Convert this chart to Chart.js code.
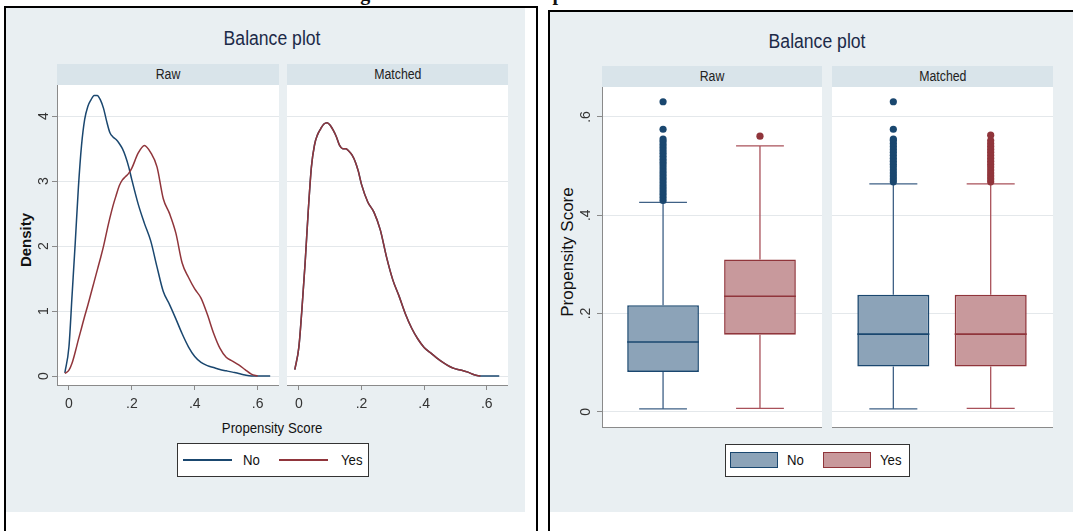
<!DOCTYPE html>
<html>
<head>
<meta charset="utf-8">
<title>Balance plots</title>
<script src="https://cdn.jsdelivr.net/npm/chart.js@4.4.1/dist/chart.umd.min.js"></script>
<style>
  html, body { margin: 0; padding: 0; background: #fff; }
  #page { position: relative; width: 1073px; height: 531px; overflow: hidden;
          font-family: 'Liberation Sans', Arial, sans-serif; color: #111; }
  .abs { position: absolute; }
  .frame { position: absolute; border: 2px solid #000; box-sizing: border-box; }
  .panel { position: absolute; background: #e9eff2; }
  .strip { position: absolute; background: #d9e4ea; font-size: 14px; line-height: 21px;
           text-align: center; color: #222; }
  .sq { display: inline-block; transform: scaleX(0.88); white-space: nowrap; }
  .title { position: absolute; width: 200px; font-size: 20px; line-height: 20px;
           text-align: center; color: #1c2a48; }
  .legend { position: absolute; background: #fff; border: 1px solid #333; }
  .legend .txt { position: absolute; font-size: 15px; line-height: 16px; transform-origin: left center; }
  canvas { position: absolute; }
</style>
</head>
<body>
<div id="page">
  <div class="abs" style="left:288px; top:-17px; font: bold 20px 'Liberation Serif', 'Times New Roman', serif; line-height:20px; white-space:nowrap;">Matching Results and Balance plots</div>

  <!-- left panel: kernel densities -->
  <div class="frame" style="left:4px; top:6px; width:534px; height:560px;"></div>
  <div class="panel" style="left:6px; top:8px; width:519px; height:504px;"></div>
  <div class="title" style="left:172px; top:28px;"><span class="sq">Balance plot</span></div>
  <div class="strip" style="left:57px; top:64px; width:222px; height:21px;"><span class="sq">Raw</span></div>
  <div class="strip" style="left:287px; top:64px; width:221px; height:21px;"><span class="sq">Matched</span></div>
  <div class="abs" style="left:-14px; top:230px; width:80px; height:20px; line-height:20px; text-align:center; font-weight:bold; font-size:15px; transform:rotate(-90deg);">Density</div>
  <div class="abs" style="left:172px; top:419px; width:200px; text-align:center; font-size:15px; line-height:18px;"><span class="sq">Propensity Score</span></div>
  <div class="legend" style="left:177px; top:443px; width:190px; height:32px;">
    <div class="abs" style="left:5px; top:15px; width:49px; height:2px; background:#1a476f;"></div>
    <div class="txt sq" style="left:65px; top:8px;">No</div>
    <div class="abs" style="left:101px; top:15px; width:49px; height:2px; background:#90353b;"></div>
    <div class="txt sq" style="left:163px; top:8px;">Yes</div>
  </div>
  <canvas id="densRaw" width="249" height="330" style="left:30px; top:85px;"></canvas>
  <canvas id="densMatched" width="221" height="330" style="left:287px; top:85px;"></canvas>

  <!-- right panel: box plots -->
  <div class="frame" style="left:548px; top:10px; width:540px; height:560px;"></div>
  <div class="panel" style="left:550px; top:12px; width:523px; height:500px;"></div>
  <div class="title" style="left:717px; top:31px;"><span class="sq">Balance plot</span></div>
  <div class="strip" style="left:602px; top:66px; width:220px; height:21px;"><span class="sq">Raw</span></div>
  <div class="strip" style="left:832px; top:66px; width:221px; height:21px;"><span class="sq">Matched</span></div>
  <div class="abs" style="left:488px; top:242px; width:160px; height:20px; line-height:20px; text-align:center; font-size:17px; transform:rotate(-90deg);">Propensity Score</div>
  <div class="legend" style="left:725px; top:444px; width:183px; height:31px;">
    <div class="abs" style="left:4px; top:7px; width:46px; height:14px; background:#8ca3b8; border:1.5px solid #1a476f;"></div>
    <div class="txt sq" style="left:61px; top:7px;">No</div>
    <div class="abs" style="left:97px; top:7px; width:46px; height:14px; background:#c8999c; border:1.5px solid #90353b;"></div>
    <div class="txt sq" style="left:154px; top:7px;">Yes</div>
  </div>
  <canvas id="boxRaw" width="252" height="345" style="left:570px; top:87px;"></canvas>
  <canvas id="boxMatched" width="221" height="345" style="left:832px; top:87px;"></canvas>
</div>

<script>
// ---- data ----

// propensity score values where the densities were read
const scoreGrid = [-0.013, 0, 0.01, 0.02, 0.03, 0.04, 0.05, 0.06, 0.07, 0.08, 0.09, 0.10,
  0.11, 0.12, 0.13, 0.14, 0.15, 0.16, 0.17, 0.18, 0.19, 0.20, 0.22, 0.24, 0.26, 0.28,
  0.30, 0.32, 0.34, 0.36, 0.38, 0.40, 0.42, 0.44, 0.46, 0.48, 0.50, 0.52, 0.54, 0.56,
  0.58, 0.60, 0.62, 0.64];

const rawNoDensity = [0.05, 0.45, 1.25, 2.05, 2.90, 3.55, 3.95, 4.15, 4.25, 4.32, 4.32, 4.25,
  4.12, 3.92, 3.75, 3.68, 3.64, 3.58, 3.50, 3.38, 3.22, 3.02, 2.65, 2.35, 2.08, 1.68,
  1.30, 1.10, 0.88, 0.65, 0.45, 0.30, 0.21, 0.16, 0.13, 0.10, 0.08, 0.06, 0.04, 0.015,
  0, 0, 0, 0];

const rawYesDensity = [0.04, 0.09, 0.20, 0.37, 0.56, 0.74, 0.92, 1.09, 1.27, 1.45, 1.63, 1.81,
  2.00, 2.22, 2.43, 2.62, 2.78, 2.93, 3.02, 3.07, 3.12, 3.20, 3.43, 3.55, 3.44, 3.22,
  2.73, 2.50, 2.20, 1.74, 1.52, 1.34, 1.20, 0.95, 0.66, 0.43, 0.29, 0.23, 0.17, 0.10,
  0.03, 0, null, null];

const matchedNoDensity = [0.10, 0.45, 1.05, 1.75, 2.55, 3.22, 3.56, 3.72, 3.81, 3.88, 3.90, 3.86,
  3.78, 3.68, 3.55, 3.50, 3.50, 3.46, 3.40, 3.30, 3.15, 2.95, 2.68, 2.52, 2.25, 1.83,
  1.48, 1.23, 0.96, 0.74, 0.57, 0.44, 0.36, 0.28, 0.21, 0.15, 0.11, 0.09, 0.06, 0.02,
  0, 0, 0, 0];

const matchedYesDensity = [0.10, 0.45, 1.05, 1.75, 2.55, 3.22, 3.56, 3.72, 3.81, 3.88, 3.90, 3.86,
  3.78, 3.68, 3.55, 3.50, 3.50, 3.46, 3.40, 3.30, 3.15, 2.95, 2.68, 2.52, 2.25, 1.83,
  1.48, 1.23, 0.96, 0.74, 0.57, 0.44, 0.36, 0.28, 0.21, 0.15, 0.11, 0.09, 0.06, 0.02,
  0, null, null, null];

const scoreTicks = [0, 0.2, 0.4, 0.6];
const scoreTickLabels = ['0', '.2', '.4', '.6'];
const densityTicks = [0, 1, 2, 3, 4];
const densityTickLabels = ['0', '1', '2', '3', '4'];

// box plots: one value per group (No, Yes)
const boxGroups = ['No', 'Yes'];
const rawLowWhisker = [0.006, 0.007];
const rawQ1 = [0.081, 0.157];
const rawMedian = [0.142, 0.235];
const rawQ3 = [0.217, 0.310];
const rawHighWhisker = [0.426, 0.541];
const matchedLowWhisker = [0.006, 0.007];
const matchedQ1 = [0.092, 0.092];
const matchedMedian = [0.158, 0.158];
const matchedQ3 = [0.238, 0.238];
const matchedHighWhisker = [0.464, 0.464];

const rawNoOutliers = [0.430, 0.436, 0.442, 0.448, 0.454, 0.460, 0.466, 0.472, 0.478, 0.484,
  0.490, 0.496, 0.502, 0.508, 0.514, 0.520, 0.526, 0.532, 0.538, 0.544, 0.550, 0.555,
  0.575, 0.631];
const rawYesOutliers = [0.561];
const matchedNoOutliers = [0.468, 0.474, 0.480, 0.486, 0.492, 0.498, 0.504, 0.510, 0.516,
  0.522, 0.528, 0.534, 0.540, 0.546, 0.552, 0.555, 0.575, 0.631];
const matchedYesOutliers = [0.468, 0.474, 0.480, 0.486, 0.492, 0.498, 0.504, 0.510, 0.516,
  0.522, 0.528, 0.534, 0.540, 0.546, 0.552, 0.563];

const boxTicks = [0, 0.2, 0.4, 0.6];
const boxTickLabels = ['0', '.2', '.4', '.6'];

// ---- styling ----
const navy = '#1a476f';
const maroon = '#90353b';
const navyFill = '#8ca3b8';
const maroonFill = '#c8999c';
const axisGrey = '#8a8a8a';
const gridGrey = '#e4e8eb';

Chart.defaults.font.family = "'Liberation Sans', Arial, sans-serif";
Chart.defaults.color = '#333';

// white plot region behind the data
const plotBackground = {
  id: 'plotBackground',
  beforeDraw(chart) {
    const { ctx, chartArea: a } = chart;
    ctx.save();
    ctx.fillStyle = '#fff';
    ctx.fillRect(a.left, a.top, a.right - a.left, a.bottom - a.top);
    ctx.restore();
  }
};

// fixed axis sizes so the facets line up; no extra padding for end labels
function fixWidth(w) {
  return s => { s.width = w; s.paddingTop = 0; s.paddingBottom = 0; };
}
function fixHeight(h) {
  return s => { s.height = h; s.paddingLeft = 0; s.paddingRight = 0; };
}

function densityChart(id, noDensity, yesDensity, withYAxis) {
  const toPoints = d => scoreGrid.map((x, i) => ({ x: x, y: d[i] }));
  return new Chart(document.getElementById(id), {
    type: 'line',
    data: {
      datasets: [
        { label: 'Yes', data: toPoints(yesDensity), borderColor: maroon },
        { label: 'No', data: toPoints(noDensity), borderColor: navy }
      ]
    },
    options: {
      responsive: false,
      animation: false,
      events: [],
      layout: { padding: 0, autoPadding: false },
      plugins: { legend: { display: false }, tooltip: { enabled: false } },
      elements: {
        point: { radius: 0 },
        line: { borderWidth: 1.5, cubicInterpolationMode: 'monotone', fill: false }
      },
      scales: {
        x: {
          type: 'linear', min: -0.038, max: 0.668, offset: false,
          afterBuildTicks: s => { s.ticks = scoreTicks.map(v => ({ value: v })); },
          afterFit: fixHeight(30),
          grid: { drawOnChartArea: false, tickColor: axisGrey, tickLength: 5 },
          border: { color: axisGrey, width: 1 },
          ticks: {
            autoSkip: false, minRotation: 0, maxRotation: 0, padding: 6,
            font: { size: 14 },
            callback: (v, i) => scoreTickLabels[i]
          }
        },
        y: {
          type: 'linear', min: -0.138, max: 4.48,
          afterBuildTicks: s => { s.ticks = densityTicks.map(v => ({ value: v })); },
          afterFit: fixWidth(withYAxis ? 27 : 0),
          grid: { color: gridGrey, tickColor: axisGrey, tickLength: 5, drawTicks: withYAxis },
          border: { display: withYAxis, color: axisGrey, width: 1 },
          ticks: {
            display: withYAxis, autoSkip: false, minRotation: 90, maxRotation: 90,
            crossAlign: 'center', padding: 4, font: { size: 14 },
            callback: (v, i) => densityTickLabels[i]
          }
        }
      }
    },
    plugins: [plotBackground]
  });
}

// whiskers, caps and median lines drawn on the library's scales
function boxParts(stats) {
  const lineColors = ['#3f6186', '#a9515a'];
  const edgeColors = [navy, maroon];
  return {
    id: 'boxParts',
    beforeDatasetsDraw(chart) {
      const y = chart.scales.y;
      const ctx = chart.ctx;
      ctx.save();
      ctx.lineWidth = 1.3;
      chart.getDatasetMeta(0).data.forEach((bar, i) => {
        const half = bar.width / 3;
        const lo = y.getPixelForValue(stats.low[i]);
        const q1 = y.getPixelForValue(stats.q1[i]);
        const q3 = y.getPixelForValue(stats.q3[i]);
        const hi = y.getPixelForValue(stats.high[i]);
        ctx.strokeStyle = lineColors[i];
        ctx.beginPath();
        ctx.moveTo(bar.x, q1); ctx.lineTo(bar.x, lo);
        ctx.moveTo(bar.x - half, lo); ctx.lineTo(bar.x + half, lo);
        ctx.moveTo(bar.x, q3); ctx.lineTo(bar.x, hi);
        ctx.moveTo(bar.x - half, hi); ctx.lineTo(bar.x + half, hi);
        ctx.stroke();
      });
      ctx.restore();
    },
    afterDatasetsDraw(chart) {
      const y = chart.scales.y;
      const ctx = chart.ctx;
      ctx.save();
      ctx.lineWidth = 1.6;
      chart.getDatasetMeta(0).data.forEach((bar, i) => {
        const m = y.getPixelForValue(stats.median[i]);
        ctx.strokeStyle = edgeColors[i];
        ctx.beginPath();
        ctx.moveTo(bar.x - bar.width / 2, m);
        ctx.lineTo(bar.x + bar.width / 2, m);
        ctx.stroke();
      });
      ctx.restore();
    }
  };
}

function boxChart(id, stats, noOutliers, yesOutliers, withYAxis) {
  const boxes = boxGroups.map((g, i) => ({ x: i, y: [stats.q1[i], stats.q3[i]] }));
  return new Chart(document.getElementById(id), {
    type: 'bar',
    data: {
      datasets: [
        {
          type: 'bar', label: 'box', data: boxes,
          backgroundColor: [navyFill, maroonFill], borderColor: [navy, maroon],
          borderWidth: 1.6, borderSkipped: false,
          categoryPercentage: 1, barPercentage: 0.74
        },
        {
          type: 'scatter', label: 'No outside values',
          data: noOutliers.map(v => ({ x: 0, y: v })),
          backgroundColor: navy, borderWidth: 0, pointRadius: 3.6
        },
        {
          type: 'scatter', label: 'Yes outside values',
          data: yesOutliers.map(v => ({ x: 1, y: v })),
          backgroundColor: maroon, borderWidth: 0, pointRadius: 3.6
        }
      ]
    },
    options: {
      responsive: false,
      animation: false,
      events: [],
      layout: { padding: 0, autoPadding: false },
      plugins: { legend: { display: false }, tooltip: { enabled: false } },
      scales: {
        x: {
          type: 'linear', min: -0.63, max: 1.64, offset: false,
          afterBuildTicks: s => { s.ticks = boxGroups.map((g, i) => ({ value: i })); },
          afterFit: fixHeight(5),
          grid: { display: false, offset: false },
          border: { color: axisGrey, width: 1 },
          ticks: { display: false }
        },
        y: {
          type: 'linear', min: -0.031, max: 0.661,
          afterBuildTicks: s => { s.ticks = boxTicks.map(v => ({ value: v })); },
          afterFit: fixWidth(withYAxis ? 32 : 0),
          grid: { color: gridGrey, tickColor: axisGrey, tickLength: 5, drawTicks: withYAxis },
          border: { display: withYAxis, color: axisGrey, width: 1 },
          ticks: {
            display: withYAxis, autoSkip: false, minRotation: 90, maxRotation: 90,
            crossAlign: 'center', padding: 5, font: { size: 14 },
            callback: (v, i) => boxTickLabels[i]
          }
        }
      }
    },
    plugins: [plotBackground, boxParts(stats)]
  });
}

densityChart('densRaw', rawNoDensity, rawYesDensity, true);
densityChart('densMatched', matchedNoDensity, matchedYesDensity, false);

boxChart('boxRaw', {
  low: rawLowWhisker, q1: rawQ1, median: rawMedian, q3: rawQ3, high: rawHighWhisker
}, rawNoOutliers, rawYesOutliers, true);
boxChart('boxMatched', {
  low: matchedLowWhisker, q1: matchedQ1, median: matchedMedian, q3: matchedQ3, high: matchedHighWhisker
}, matchedNoOutliers, matchedYesOutliers, false);
</script>
</body>
</html>
